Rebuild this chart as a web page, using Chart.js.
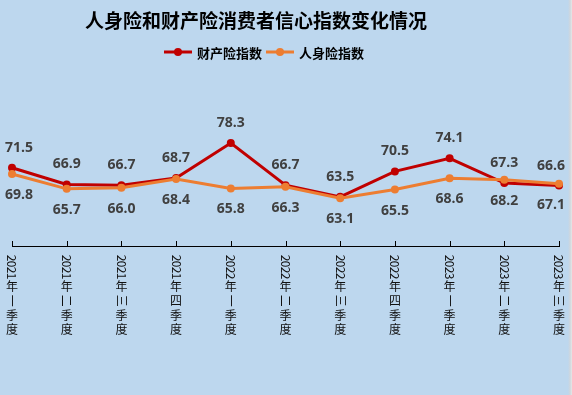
<!DOCTYPE html>
<html>
<head>
<meta charset="utf-8">
<script src="https://cdn.jsdelivr.net/npm/chart.js@4"></script>
<style>
  html, body { margin: 0; padding: 0; background: #bdd7ee; }
  #wrap { position: relative; width: 572px; height: 395px; }
  #edge { position: absolute; right: 0; top: 0; width: 4px; height: 395px;
          background: linear-gradient(to right, #bdd7ee, #cfd6dd, #e6e6e6); }
</style>
</head>
<body>
<div id="wrap">
  <canvas id="chart" width="572" height="395"></canvas>
  <div id="edge"></div>
</div>
<script>
const quarters = [
  "2021年一季度", "2021年二季度", "2021年三季度", "2021年四季度",
  "2022年一季度", "2022年二季度", "2022年三季度", "2022年四季度",
  "2023年一季度", "2023年二季度", "2023年三季度"
];
const propertyIndex = [71.5, 66.9, 66.7, 68.7, 78.3, 66.7, 63.5, 70.5, 74.1, 67.3, 66.6];
const lifeIndex = [69.8, 65.7, 66.0, 68.4, 65.8, 66.3, 63.1, 65.5, 68.6, 68.2, 67.1];

const titleText = "人身险和财产险消费者信心指数变化情况";
const propertyName = "财产险指数";
const lifeName = "人身险指数";

const red = "#c00000";
const orange = "#ed7d31";

// title, legend, tick marks, vertical tick labels and value labels
const decorations = {
  id: "decorations",
  afterDatasetsDraw(chart) {
    const ctx = chart.ctx;
    const area = chart.chartArea;
    const xs = chart.scales.x;
    ctx.save();

    // title
    ctx.fillStyle = "#000";
    ctx.font = "bold 19px 'Noto Sans CJK SC'";
    ctx.textAlign = "center";
    ctx.textBaseline = "middle";
    ctx.fillText(titleText, 256, 21);

    // legend
    ctx.font = "bold 13px 'Noto Sans CJK SC'";
    ctx.textAlign = "left";
    const legendItems = [
      { name: propertyName, color: red, x: 164 },
      { name: lifeName, color: orange, x: 266 }
    ];
    legendItems.forEach((item) => {
      ctx.strokeStyle = item.color;
      ctx.lineWidth = 3;
      ctx.beginPath();
      ctx.moveTo(item.x, 52);
      ctx.lineTo(item.x + 28, 52);
      ctx.stroke();
      ctx.fillStyle = item.color;
      ctx.beginPath();
      ctx.arc(item.x + 14, 52, 4, 0, Math.PI * 2);
      ctx.fill();
      ctx.fillStyle = "#000";
      ctx.fillText(item.name, item.x + 33, 53);
    });

    // tick marks (pointing up into the plot)
    ctx.strokeStyle = "#000";
    ctx.lineWidth = 1;
    quarters.forEach((q, i) => {
      const px = Math.round(xs.getPixelForTick(i)) + 0.5;
      ctx.beginPath();
      ctx.moveTo(px, area.bottom);
      ctx.lineTo(px, area.bottom - 5);
      ctx.stroke();
    });

    // vertical tick labels
    ctx.fillStyle = "#111";
    ctx.font = "12px 'Noto Sans CJK SC'";
    quarters.forEach((q, i) => {
      const px = xs.getPixelForTick(i);
      let y = area.bottom + 9;
      for (const ch of q) {
        const sideways = /[0-9一二三]/.test(ch);
        if (sideways) {
          const w = /[0-9]/.test(ch) ? 6 : 14.5;
          ctx.save();
          ctx.translate(px, y + w / 2);
          ctx.rotate(Math.PI / 2);
          ctx.textAlign = "center";
          ctx.textBaseline = "middle";
          ctx.fillText(ch, 0, 0);
          ctx.restore();
          y += w;
        } else {
          ctx.textAlign = "center";
          ctx.textBaseline = "middle";
          ctx.fillText(ch, px, y + 7.25);
          y += 14.5;
        }
      }
    });

    // value labels
    ctx.font = "bold 14px 'Open Sans'";
    ctx.fillStyle = "#404040";
    ctx.textAlign = "center";
    ctx.textBaseline = "middle";
    const W = chart.width;
    chart.data.datasets.forEach((ds, di) => {
      const meta = chart.getDatasetMeta(di);
      meta.data.forEach((pt, j) => {
        const txt = ds.data[j].toFixed(1);
        const tw = ctx.measureText(txt).width;
        let x = Math.min(Math.max(pt.x, tw / 2 + 5), W - tw / 2 - 7);
        const y = ds.labelAbove ? pt.y - 20 : pt.y + 21;
        ctx.fillText(txt, x, y);
      });
    });

    ctx.restore();
  }
};

new Chart(document.getElementById("chart"), {
  type: "line",
  data: {
    labels: quarters,
    datasets: [
      {
        label: propertyName,
        data: propertyIndex,
        borderColor: red,
        backgroundColor: red,
        borderWidth: 3,
        pointRadius: 4,
        pointBorderWidth: 0,
        clip: false,
        order: 2,
        labelAbove: true
      },
      {
        label: lifeName,
        data: lifeIndex,
        borderColor: orange,
        backgroundColor: orange,
        borderWidth: 3,
        pointRadius: 4,
        pointBorderWidth: 0,
        clip: false,
        order: 1,
        labelAbove: false
      }
    ]
  },
  options: {
    responsive: false,
    animation: false,
    layout: {
      padding: { left: 12, right: 13, top: 64, bottom: 149 }
    },
    plugins: {
      legend: { display: false },
      title: { display: false },
      tooltip: { enabled: false }
    },
    scales: {
      x: {
        offset: false,
        grid: { display: false, drawTicks: false },
        border: { display: true, color: "#000", width: 1 },
        ticks: { display: false }
      },
      y: {
        display: false,
        min: 50,
        max: 100
      }
    }
  },
  plugins: [decorations]
});
</script>
</body>
</html>
